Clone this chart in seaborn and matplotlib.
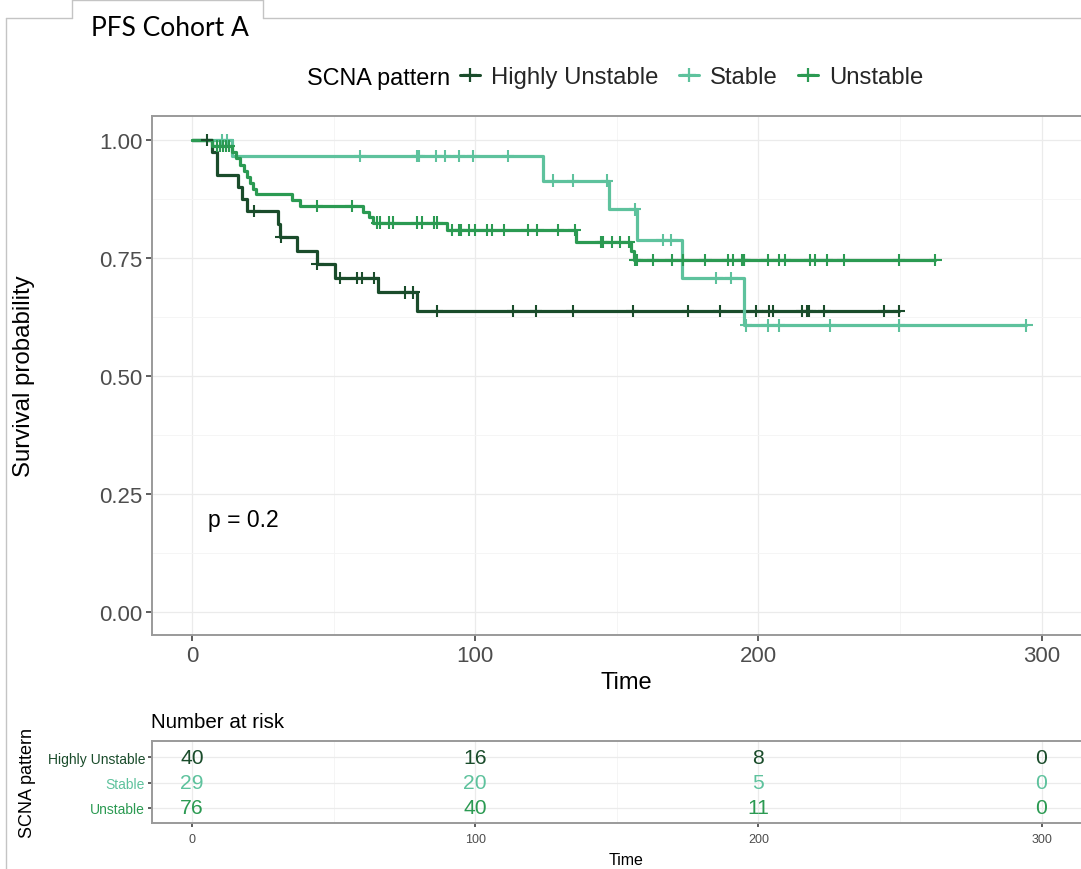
import numpy as np
import pandas as pd
import matplotlib
matplotlib.use("Agg")
import matplotlib.pyplot as plt
import seaborn as sns
from matplotlib.lines import Line2D
from matplotlib.ticker import MultipleLocator

# ---------------- data ----------------
groups = ["Highly Unstable", "Stable", "Unstable"]
group_colors = ["#1a4c2b", "#5ec29d", "#2b9a52"]

# Highly Unstable: event times and survival after each event, censoring times
hu_event_times = [7, 9, 16.4, 17.5, 19.3, 30.3, 31.0, 37, 44, 50.5, 65.8, 79.4]
hu_surv = [0.975, 0.925, 0.900, 0.875, 0.850, 0.822, 0.795, 0.765, 0.737, 0.708, 0.677, 0.638]
hu_censor = [5.3, 22, 31.5, 44.3, 52.3, 58.2, 59.9, 64.3, 75.3, 78.2, 86.5, 113.3, 121.4,
             134.4, 155.6, 175.2, 186.3, 199.3, 203.6, 205.2, 215.4, 217.2, 218.0, 223.3,
             244.3, 249.6]

# Stable
st_event_times = [14, 124.1, 147.1, 157.1, 173, 195.1]
st_surv = [0.966, 0.914, 0.853, 0.788, 0.707, 0.607]
st_censor = [10.5, 12.5, 59.4, 79.4, 80.0, 86.2, 89.2, 94.3, 99.4, 111.5, 127.4, 134.5,
             146.5, 156.5, 166.2, 169.3, 185.2, 190.5, 195.6, 203.3, 207.4, 225.4, 249.6,
             294.7]

# Unstable
un_event_times = [7, 14, 15.5, 17, 18.5, 19.5, 20.5, 21.5, 22.6, 35.2, 38.2, 60.5, 62.5,
                  64, 90, 135.7, 155, 156]
un_surv = [0.987, 0.974, 0.961, 0.947, 0.934, 0.921, 0.908, 0.897, 0.886, 0.873, 0.860,
           0.848, 0.836, 0.825, 0.809, 0.784, 0.765, 0.746]
un_censor = [9, 10, 11, 12, 13, 44, 56.4, 65.3, 66.4, 69.4, 71.1, 79.4, 81.2, 85.3, 86.5,
             91.8, 94.3, 94.9, 97.9, 100, 104.1, 105.9, 110.2, 118.5, 122, 129.1, 135.1,
             144.5, 145.1, 148.3, 151.2, 154.2, 156.5, 157.1, 162.9, 169.4, 173.4, 181.3,
             189.2, 191.2, 194.2, 194.8, 195.1, 203.3, 207.4, 209.3, 218.4, 220.1, 224.2,
             230.1, 249.6, 262.5]

# Number at risk table
risk_times = [0, 100, 200, 300]
hu_risk = [40, 16, 8, 0]
st_risk = [29, 20, 5, 0]
un_risk = [76, 40, 11, 0]

p_value_label = "p = 0.2"

# ---------------- build tidy frames ----------------
curves = {
    "Highly Unstable": (hu_event_times, hu_surv, hu_censor, hu_risk),
    "Stable": (st_event_times, st_surv, st_censor, st_risk),
    "Unstable": (un_event_times, un_surv, un_censor, un_risk),
}
palette = dict(zip(groups, group_colors))

step_rows, cens_rows = [], []
for g in groups:
    et, sv, cz, _ = curves[g]
    t_full = np.array([0.0] + list(et))
    s_full = np.array([1.0] + list(sv))
    t_end = max(max(cz), t_full[-1])
    for t, s in zip(list(t_full) + [t_end], list(s_full) + [s_full[-1]]):
        step_rows.append((g, t, s))
    for c in cz:
        idx = np.searchsorted(t_full, c, side="right") - 1
        cens_rows.append((g, c, s_full[idx]))

steps = pd.DataFrame(step_rows, columns=["group", "time", "surv"])
cens = pd.DataFrame(cens_rows, columns=["group", "time", "surv"])

# ---------------- figure ----------------
sns.set_theme(style="white")
plt.rcParams["font.family"] = ["Liberation Sans", "DejaVu Sans"]

W, H = 1081, 870
fig = plt.figure(figsize=(W / 100, H / 100), dpi=100)

def fx(px):
    return px / W

def fy(py):
    return 1 - py / H

x0_px, x300_px = 192.0, 1041.5
ppu = (x300_px - x0_px) / 300.0
ax_left, ax_right = 152, 1100
ax_w = ax_right - ax_left
xlim = ((ax_left - x0_px) / ppu, (ax_right - x0_px) / ppu)

border_col = "#9a9a9a"
grid_major = "#ebebeb"
grid_minor = "#f4f4f4"
tick_col = "#4d4d4d"

# main survival panel
ax = fig.add_axes([fx(ax_left), fy(636), fx(ax_w), (636 - 117) / H])
ax.set_xlim(*xlim)
ax.set_ylim(-0.0487, 1.0508)
ax.xaxis.set_major_locator(MultipleLocator(100))
ax.xaxis.set_minor_locator(MultipleLocator(50))
ax.yaxis.set_major_locator(MultipleLocator(0.25))
ax.yaxis.set_minor_locator(MultipleLocator(0.125))
ax.grid(True, which="major", color=grid_major, lw=0.9)
ax.grid(True, which="minor", color=grid_minor, lw=0.6)
ax.set_axisbelow(True)
for sp in ax.spines.values():
    sp.set_color(border_col)
    sp.set_linewidth(1.4)

sns.lineplot(data=steps, x="time", y="surv", hue="group", hue_order=groups,
             palette=palette, estimator=None, sort=False, drawstyle="steps-post",
             linewidth=2.3, legend=False, ax=ax)
sns.scatterplot(data=cens, x="time", y="surv", hue="group", hue_order=groups,
                palette=palette, marker="+", s=80, linewidth=1.5, legend=False,
                ax=ax, zorder=4)

ax.set_yticks([0, 0.25, 0.5, 0.75, 1.0])
ax.set_yticklabels(["0.00", "0.25", "0.50", "0.75", "1.00"])
ax.tick_params(axis="both", which="major", length=4, width=1.1, color="#333333",
               labelsize=16, labelcolor=tick_col, pad=3, bottom=True, left=True)
ax.tick_params(which="minor", length=0)
ax.set_xlabel("Time", fontsize=17, color="black", labelpad=4)
ax.set_ylabel("Survival probability", fontsize=17.3, color="black", va="center")
ax.yaxis.set_label_coords((24 - ax_left) / ax_w, 0.5)

ax.text(5.6, 0.195, p_value_label, fontsize=16.5, color="black", ha="left", va="center")

# legend along the top
fig.text(fx(307), fy(78), "SCNA pattern", fontsize=16.8, ha="left", va="center",
         color="black")
handles = [Line2D([], [], color=c, lw=2.2, marker="+", markersize=10, mew=1.6)
           for c in group_colors]
fig.legend(handles, groups, ncol=3, loc="center left",
           bbox_to_anchor=(fx(460), fy(78)), frameon=False, fontsize=17.2,
           handlelength=0.85, handletextpad=0.45, columnspacing=0.85, borderpad=0,
           borderaxespad=0)

# risk table panel
rax = fig.add_axes([fx(ax_left), fy(824), fx(ax_w), (824 - 742) / H])
rax.set_xlim(*xlim)
rax.set_ylim(0.41, 3.63)
rax.xaxis.set_major_locator(MultipleLocator(100))
rax.xaxis.set_minor_locator(MultipleLocator(50))
rax.set_yticks([3, 2, 1])
rax.set_yticklabels(groups)
for lbl, c in zip(rax.get_yticklabels(), group_colors):
    lbl.set_color(c)
rax.grid(True, which="major", color=grid_major, lw=0.9)
rax.grid(True, which="minor", axis="x", color=grid_minor, lw=0.6)
rax.set_axisbelow(True)
for sp in rax.spines.values():
    sp.set_color(border_col)
    sp.set_linewidth(1.4)
rax.tick_params(axis="x", which="major", length=3, width=1.1, color="#333333",
                labelsize=9, labelcolor=tick_col, pad=4, bottom=True)
rax.tick_params(axis="y", which="major", length=3, width=1.1, color="#333333",
                labelsize=10, pad=2, left=True)
rax.tick_params(which="minor", length=0)

for row_y, g in zip([3, 2, 1], groups):
    risk = curves[g][3]
    for t, n in zip(risk_times, risk):
        rax.text(t, row_y, str(n), color=palette[g], fontsize=15.2,
                 ha="center", va="center")

rax.set_xlabel("Time", fontsize=11.5, color="black", labelpad=5)
rax.set_ylabel("SCNA pattern", fontsize=13, color="black", labelpad=8)
fig.text(fx(151), fy(722), "Number at risk", fontsize=14.8, ha="left", va="center",
         color="black")

# surrounding tab-style frame and heading
frame_col = "#c4c4c4"
for xs, ys in [((6, 72), (19, 19)), ((72, 72), (19, 1)), ((72, 263), (1, 1)),
               ((263, 263), (1, 19)), ((263, W), (19, 19)), ((6, 6), (19, H))]:
    fig.add_artist(Line2D([fx(xs[0]), fx(xs[1])], [fy(ys[0]), fy(ys[1])],
                          transform=fig.transFigure, color=frame_col, lw=1.0))
fig.text(fx(91), fy(28), "PFS Cohort A", fontsize=19, ha="left", va="center",
         color="black", family=["Lato", "DejaVu Sans"])

fig.savefig("out.png", dpi=100)
